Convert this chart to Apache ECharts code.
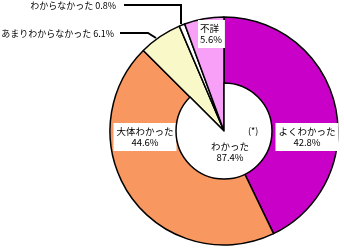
<!DOCTYPE html>
<html><head><meta charset="utf-8">
<script src="https://cdn.jsdelivr.net/npm/echarts@6/dist/echarts.min.js"></script>
<style>html,body{margin:0;padding:0;background:#fff}#c{width:344px;height:248px}</style>
</head><body><div id="c"></div>
<script>
const categories = ['よくわかった','大体わかった','あまりわからなかった','わからなかった','不詳'];
const values = [42.8, 44.6, 6.1, 0.8, 5.6];
const summaryName = 'わかった';
const summaryValue = 87.4;
const summaryNote = '(*)';

const colors = ['#C800C8','#F89860','#F8F8C8','#FFFFFF','#F8A0F8'];
const FONT = '"Noto Sans CJK JP", sans-serif';
const CX = 224, CY = 131, R = 114, RI = 48;

const labelPos = [
  {x:307, y:137, align:'center'},
  {x:145, y:137, align:'center'},
  {x:114, y:34, align:'right', line:[[156,38],[148,33],[120,33]]},
  {x:116, y:6, align:'right', line:[[181,24],[181,5],[124,5]]},
  {x:198, y:34, align:'left'}
];

const outerData = categories.map((n,i)=>{
  const inside = (i===0||i===1||i===4);
  return {
    name:n, value:values[i],
    itemStyle:{color:colors[i]},
    label: inside ? {
      position:'inside', formatter:'{b}\n{c}%', backgroundColor:'#fff',
      padding: i===4 ? [3,3,3,2] : [3,3,3,3], align: i===4?'left':'center', lineHeight:11
    } : {position:'outside', formatter:'{b} {c}%', padding:0, fontSize:9},
    labelLine: inside ? {show:false} : {show:true, lineStyle:{color:'#000', width:2}}
  };
});

const chart = echarts.init(document.getElementById('c'), null, {renderer:'canvas'});
chart.setOption({
  animation:false,
  series:[
    {
      type:'pie', center:[CX,CY], radius:[0,R], startAngle:90, clockwise:true,
      avoidLabelOverlap:false, silent:true,
      itemStyle:{borderColor:'#000', borderWidth:1.5},
      label:{color:'#000', fontFamily:FONT, fontSize:9.5},
      labelLine:{length:10, length2:10},
      data: outerData,
      labelLayout: function(p){
        const q = labelPos[p.dataIndex];
        const o = {x:q.x, y:q.y, align:q.align, verticalAlign:'middle'};
        if (q.line) o.labelLinePoints = q.line;
        return o;
      }
    },
    {
      type:'pie', center:[CX,CY], radius:[0,RI], startAngle:90, clockwise:true,
      silent:true, z:3,
      label:{show:false},
      labelLine:{show:false},
      data:[
        {name:summaryName, value:summaryValue,
          itemStyle:{color:'#fff', borderColor:'#000', borderWidth:1.5},
          label:{show:true, position:'inside', formatter:'{b}\n{c}%', color:'#000',
            fontFamily:FONT, fontSize:9.5, lineHeight:11, align:'center'}},
        {name:'', value:+(values.reduce((a,b)=>a+b,0)-summaryValue).toFixed(1),
          itemStyle:{color:'rgba(0,0,0,0)', borderWidth:0}, label:{show:false}}
      ],
      labelLayout: function(p){
        if (p.dataIndex===0) return {x:230, y:152, align:'center', verticalAlign:'middle'};
      }
    }
  ],
  graphic:[{type:'text', left:248, top:126, z:10, style:{text:summaryNote, fill:'#000', font:'9px '+FONT}}]
});
</script></body></html>
